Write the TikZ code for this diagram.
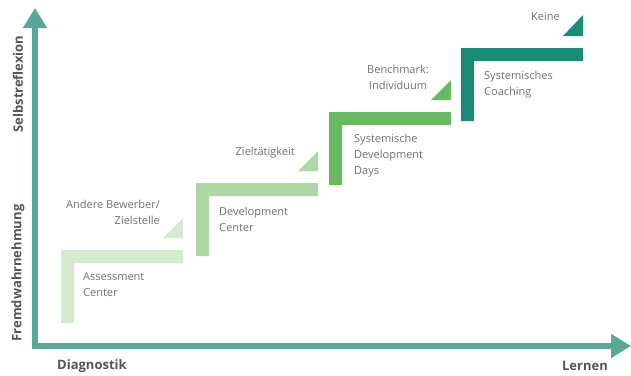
\documentclass[tikz,border=0pt]{standalone}
\usepackage{fontspec}
\setmainfont{Open Sans}
\usepackage{tikz}
\usetikzlibrary{arrows.meta}

\definecolor{axisteal}{HTML}{58A898}
\definecolor{stepone}{HTML}{D5EAD1}
\definecolor{steptwo}{HTML}{ADD8A6}
\definecolor{stepthree}{HTML}{68B962}
\definecolor{stepfour}{HTML}{1C8B75}
\definecolor{labelgray}{HTML}{707070}
\definecolor{axisgray}{HTML}{555555}

\tikzset{
	axis/.style={axisteal, line width=6pt, line join=miter,
		{Triangle[width=23pt,length=20pt]}-{Triangle[width=23pt,length=20pt]}},
	steplabel/.style={inner sep=0pt, text=labelgray, font=\fontsize{11pt}{16pt}\selectfont},
	axislabel/.style={inner sep=0pt, text=axisgray, font=\fontsize{13pt}{15pt}\selectfont\bfseries}
}

\begin{document}
\begin{tikzpicture}[x=1pt, y=-1pt]
		\useasboundingbox (0,0) rectangle (631,375);
		% axes
		\coordinate (ytip) at (35,8);
		\coordinate (xtip) at (631,346);
		\draw[axis] (ytip) |- (xtip);
		\node[axislabel, rotate=90] (selbst) at (18,84) {Selbstreflexion};
		\node[axislabel, rotate=90] (fremd) at (18,273) {Fremdwahrnehmung};
		\node[axislabel, anchor=west] (diag) at (57,366) {Diagnostik};
		\node[axislabel, anchor=east] (lernen) at (608,366) {Lernen};
		% step1
		\fill[stepone] (61,323) |- (183,250) -- ++(0,13) -| (74,323) -- cycle;
		\fill[stepone] (163,238) -- (183,238) -- (183,218) -- cycle;
		\node[steplabel, anchor=west, align=left] (assess) at (83,285) {Assessment\\Center};
		\node[steplabel, anchor=east, align=right] (andere) at (160,212) {Andere Bewerber/\\Zielstelle};
		% step2
		\fill[steptwo] (196,256) |- (318,183) -- ++(0,13) -| (209,256) -- cycle;
		\fill[steptwo] (298,171) -- (318,171) -- (318,151) -- cycle;
		\node[steplabel, anchor=west, align=left] (devcenter) at (219,219) {Development\\Center};
		\node[steplabel, anchor=east] (ziel) at (295,153) {Zieltätigkeit};
		% step3
		\fill[stepthree] (329,185) |- (451,112) -- ++(0,13) -| (342,185) -- cycle;
		\fill[stepthree] (431,100) -- (451,100) -- (451,80) -- cycle;
		\node[steplabel, anchor=west, align=left] (devdays) at (354,156) {Systemische\\Development\\Days};
		\node[steplabel, align=center] (bench) at (398,77) {Benchmark:\\Individuum};
		% step4
		\fill[stepfour] (461,121) |- (583,48) -- ++(0,13) -| (474,121) -- cycle;
		\fill[stepfour] (563,36) -- (583,36) -- (583,15) -- cycle;
		\node[steplabel, anchor=west, align=left] (coaching) at (484,85) {Systemisches\\Coaching};
		\node[steplabel, anchor=east] (keine) at (560,17) {Keine};
	\end{tikzpicture}
\end{document}
